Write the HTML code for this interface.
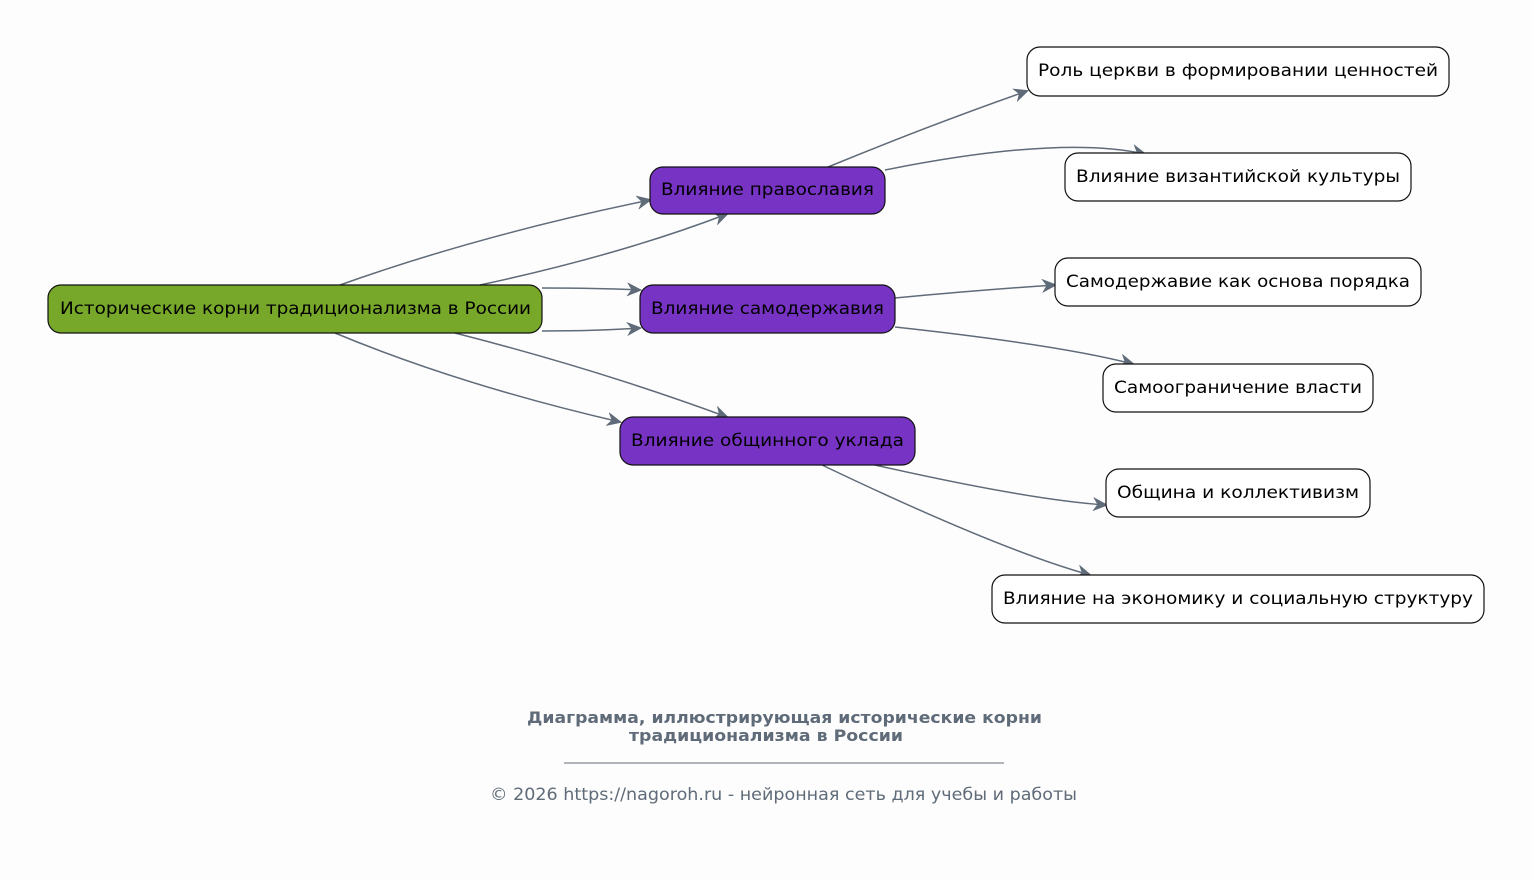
<!DOCTYPE html>
<html><head><meta charset="utf-8"><style>
html,body{margin:0;padding:0;background:#fdfdfd;}
svg{display:block;font-family:"DejaVu Sans","Liberation Sans",sans-serif;}
</style></head><body>
<svg width="1532" height="879" viewBox="0 0 1532 879" xmlns="http://www.w3.org/2000/svg">
<defs>
<marker id="a" markerWidth="16" markerHeight="14" refX="13" refY="7" orient="auto" markerUnits="userSpaceOnUse">
<path d="M1,1 L14,7 L1,13 L5,7 Z" fill="#5f6b78" stroke="#5f6b78" stroke-width="1"/>
</marker>
</defs>
<rect width="1532" height="879" fill="#fdfdfd"/>
<g fill="none" stroke="#5f6b78" stroke-width="1.5" marker-end="url(#a)">
<path d="M340,285 Q480,235 650,200"/>
<path d="M480,285 Q620,255 727,214"/>
<path d="M542,288 Q600,288 640,290"/>
<path d="M542,331 Q600,331 640,328"/>
<path d="M335,333 Q460,385 620,422"/>
<path d="M455,333 Q600,370 727,417"/>
<path d="M828,167 Q930,125 1027,91"/>
<path d="M885,170 Q1060,135 1145,154"/>
<path d="M895,298 Q980,290 1055,285"/>
<path d="M895,327 Q1060,345 1133,364"/>
<path d="M875,465 Q1030,500 1106,505"/>
<path d="M822,465 Q1000,550 1090,575"/>
</g>
<g stroke="#111" stroke-width="1.2">
<rect x="48" y="285" width="494" height="48" rx="13" fill="#77a82a"/>
<rect x="650" y="167" width="235" height="47" rx="13" fill="#7733c4"/>
<rect x="640" y="285" width="255" height="48" rx="13" fill="#7733c4"/>
<rect x="620" y="417" width="295" height="48" rx="13" fill="#7733c4"/>
<rect x="1027" y="47" width="422" height="49" rx="13" fill="#fff"/>
<rect x="1065" y="153" width="346" height="48" rx="13" fill="#fff"/>
<rect x="1055" y="258" width="366" height="48" rx="13" fill="#fff"/>
<rect x="1103" y="364" width="270" height="48" rx="13" fill="#fff"/>
<rect x="1106" y="469" width="264" height="48" rx="13" fill="#fff"/>
<rect x="992" y="575" width="492" height="48" rx="13" fill="#fff"/>
</g>
<g font-size="17" fill="#000" dominant-baseline="central">
<text x="60" y="309" textLength="471" lengthAdjust="spacingAndGlyphs">Исторические корни традиционализма в России</text>
<text x="661" y="190" textLength="213" lengthAdjust="spacingAndGlyphs">Влияние православия</text>
<text x="651" y="309" textLength="233" lengthAdjust="spacingAndGlyphs">Влияние самодержавия</text>
<text x="631" y="441" textLength="273" lengthAdjust="spacingAndGlyphs">Влияние общинного уклада</text>
<text x="1038" y="71" textLength="400" lengthAdjust="spacingAndGlyphs">Роль церкви в формировании ценностей</text>
<text x="1076" y="177" textLength="324" lengthAdjust="spacingAndGlyphs">Влияние византийской культуры</text>
<text x="1066" y="282" textLength="344" lengthAdjust="spacingAndGlyphs">Самодержавие как основа порядка</text>
<text x="1114" y="388" textLength="248" lengthAdjust="spacingAndGlyphs">Самоограничение власти</text>
<text x="1117" y="493" textLength="242" lengthAdjust="spacingAndGlyphs">Община и коллективизм</text>
<text x="1003" y="599" textLength="470" lengthAdjust="spacingAndGlyphs">Влияние на экономику и социальную структуру</text>
</g>
<g fill="#5f6b78">
<text x="527" y="723" font-size="16" font-weight="bold" textLength="515" lengthAdjust="spacingAndGlyphs">Диаграмма, иллюстрирующая исторические корни</text>
<text x="629" y="741" font-size="16" font-weight="bold" textLength="274" lengthAdjust="spacingAndGlyphs">традиционализма в России</text>
<line x1="564" y1="763" x2="1004" y2="763" stroke="#5f6b78" stroke-width="1"/>
<text x="490" y="800" font-size="17" textLength="587" lengthAdjust="spacingAndGlyphs">© 2026 https://nagoroh.ru - нейронная сеть для учебы и работы</text>
</g>
</svg>
</body></html>
